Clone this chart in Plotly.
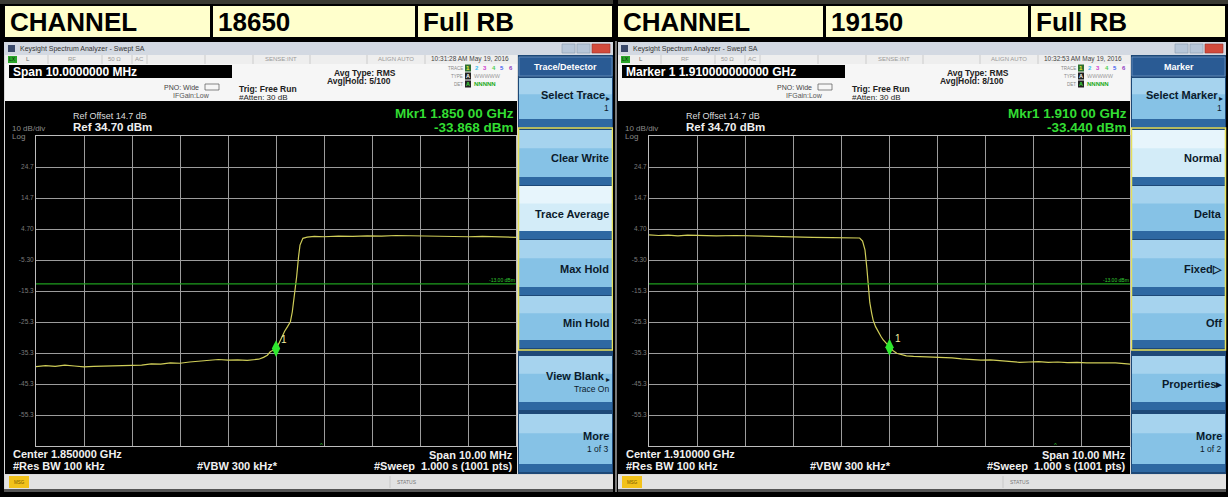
import plotly.graph_objects as go

W, H = 1228, 497
FONT = "Liberation Sans, Arial, sans-serif"

# ---------------- data ----------------
HEADER_LEFT = ["CHANNEL", "18650", "Full RB"]
HEADER_RIGHT = ["CHANNEL", "19150", "Full RB"]

# frequency offset from centre (MHz) and trace level (dBm)
LEFT_FREQ_MHZ = [-5.00, -4.80, -4.60, -4.40, -4.20, -4.00, -3.80, -3.60, -3.40, -3.20,
                 -3.00, -2.80, -2.60, -2.40, -2.20, -2.00, -1.80, -1.60, -1.40, -1.20,
                 -1.00, -0.80, -0.60, -0.47, -0.36, -0.26, -0.18, -0.12, -0.06, 0.00,
                 0.06, 0.12, 0.18, 0.24, 0.30, 0.34, 0.37, 0.40, 0.43, 0.47,
                 0.50, 0.56, 0.65, 0.80, 1.00, 1.30, 1.60, 1.90, 2.20, 2.50,
                 2.80, 3.10, 3.40, 3.70, 4.00, 4.30, 4.60, 4.80, 5.00]
LEFT_LEVEL_DBM = [-39.7, -39.4, -39.6, -39.2, -39.5, -39.8, -39.6, -39.5, -39.3, -39.4,
                  -39.1, -39.2, -38.8, -38.9, -38.5, -38.6, -38.2, -37.9, -37.7, -37.4,
                  -37.6, -37.5, -37.7, -37.6, -37.3, -36.7, -36.0, -34.9, -34.4, -33.9,
                  -32.2, -30.0, -28.3, -26.8, -25.2, -22.0, -18.5, -15.5, -10.7, -4.2,
                  -0.5, 1.7, 2.1, 2.3, 2.2, 2.4, 2.3, 2.5, 2.4, 2.6,
                  2.5, 2.4, 2.3, 2.4, 2.2, 2.3, 2.1, 2.2, 2.0]

RIGHT_FREQ_MHZ = [-5.00, -4.80, -4.60, -4.40, -4.20, -4.00, -3.60, -3.20, -2.80, -2.40,
                  -2.00, -1.60, -1.20, -0.90, -0.62, -0.56, -0.51, -0.47, -0.44, -0.41,
                  -0.37, -0.34, -0.29, -0.24, -0.18, -0.13, -0.06, 0.00, 0.07, 0.15,
                  0.25, 0.35, 0.50, 0.70, 0.90, 1.10, 1.30, 1.50, 1.70, 1.90,
                  2.10, 2.30, 2.50, 2.70, 2.90, 3.10, 3.30, 3.50, 3.70, 3.90,
                  4.10, 4.40, 4.70, 5.00]
RIGHT_LEVEL_DBM = [2.8, 2.6, 2.7, 2.5, 2.7, 2.6, 2.5, 2.6, 2.4, 2.3,
                   2.2, 2.0, 1.9, 1.9, 1.8, 0.8, -2.0, -8.0, -12.8, -19.0,
                   -22.5, -24.7, -26.8, -28.4, -29.9, -31.1, -32.4, -33.4, -34.5, -35.4,
                   -35.9, -36.2, -36.4, -36.5, -36.7, -36.6, -36.9, -37.2, -37.4, -37.6,
                   -37.5, -37.7, -37.9, -38.3, -38.2, -38.1, -38.3, -38.2, -38.4, -38.3,
                   -38.5, -38.6, -38.5, -38.9]

REF_LEVEL = 34.7
BOTTOM_LEVEL = -65.3
DISPLAY_LINE_DBM = -13.0
Y_TICK_VALUES = [24.7, 14.7, 4.7, -5.3, -15.3, -25.3, -35.3, -45.3, -55.3]
Y_TICK_LABELS = ["24.7", "14.7", "4.70", "-5.30", "-15.3", "-25.3", "-35.3", "-45.3", "-55.3"]

MARKER_FREQ_MHZ = [0.0, 0.0]
MARKER_LEVEL_DBM = [-33.868, -33.440]
MARKER_FREQ_TEXT = ["1.850 00 GHz", "1.910 00 GHz"]
MARKER_LEVEL_TEXT = ["-33.868 dBm", "-33.440 dBm"]
CENTER_TEXT = ["Center 1.850000 GHz", "Center 1.910000 GHz"]
ACTIVE_TEXT = ["Span 10.0000000 MHz", "Marker 1 1.910000000000 GHz"]
AVG_HOLD_TEXT = ["Avg|Hold: 5/100", "Avg|Hold: 8/100"]
TIME_TEXT = ["10:31:28 AM May 19, 2016", "10:32:53 AM May 19, 2016"]
MENU_TITLE = ["Trace/Detector", "Marker"]
MENU_KEYS = [
    [("Select Trace", "1", True), ("Clear Write", None, False), ("Trace Average", None, False),
     ("Max Hold", None, False), ("Min Hold", None, False), ("View Blank", "Trace On", True),
     ("More", "1 of 3", False)],
    [("Select Marker", "1", True), ("Normal", None, False), ("Delta", None, False),
     ("Fixed\u25b7", None, False), ("Off", None, False), ("Properties\u25b8", None, False),
     ("More", "1 of 2", False)],
]
MENU_ACTIVE = [2, 1]
CARET_FREQ_MHZ = [0.94, 3.46]

# ---------------- helpers ----------------
shapes, annotations = [], []


def px(x):
    return x / W


def py(y):
    return 1 - y / H


def rect(x0, y0, x1, y1, fill, line_color=None, lw=0):
    shapes.append(dict(type="rect", xref="paper", yref="paper",
                       x0=px(x0), x1=px(x1), y0=py(y1), y1=py(y0),
                       fillcolor=fill, layer="below",
                       line=dict(color=line_color or "rgba(0,0,0,0)", width=lw)))


def line(x0, y0, x1, y1, color, lw=1):
    shapes.append(dict(type="line", xref="paper", yref="paper",
                       x0=px(x0), x1=px(x1), y0=py(y0), y1=py(y1),
                       layer="below", line=dict(color=color, width=lw)))


def text(x, y, s, size, color, bold=False, anchor="left", family=FONT):
    annotations.append(dict(xref="paper", yref="paper", x=px(x), y=py(y),
                            text=f"<b>{s}</b>" if bold else s, showarrow=False,
                            xanchor=anchor, yanchor="middle", borderpad=0,
                            font=dict(size=size, color=color, family=family)))


# ---------------- global background ----------------
rect(0, 0, W, H, "#000000")
rect(0, 0, W, 4, "#3b3b33")

HEADERS = [HEADER_LEFT, HEADER_RIGHT]


def panel(i, ox):
    # header cells
    cells = [(5, 210), (213, 415), (418, 612)]
    for (a, b), label in zip(cells, HEADERS[i]):
        rect(ox + a, 6, ox + b, 37, "#ffffcc")
        text(ox + a + 4, 21.5, label, 26, "#000000", bold=True)

    # window frame
    rect(ox + 4, 42, ox + 613, 490, "#d9d9d9")
    # title bar
    rect(ox + 4, 42, ox + 613, 55, "#d3d9e2")
    rect(ox + 8, 45, ox + 15, 52, "#3a4a6a")
    text(ox + 19, 48.5, "Keysight Spectrum Analyzer - Swept SA", 7, "#333333")
    rect(ox + 562, 44, ox + 575, 53, "#b7c6d8", "#8a9ab0", 0.6)
    rect(ox + 577, 44, ox + 590, 53, "#b7c6d8", "#8a9ab0", 0.6)
    rect(ox + 592, 44, ox + 610, 53, "#d24b3c", "#9a3028", 0.6)

    # status row (LX L RF ...)
    rect(ox + 5, 55, ox + 517, 64, "#eeeeee")
    rect(ox + 8, 56, ox + 17, 63, "#2aa52a")
    text(ox + 12.5, 59.5, "LX", 5, "#0a300a", anchor="center")
    for sx in [48, 102, 132, 147, 205, 253, 310, 367, 425]:
        line(ox + sx, 55, ox + sx, 64, "#b5b5b5", 0.6)
    text(ox + 28, 59.5, "L", 6, "#666666", anchor="center")
    text(ox + 72, 59.5, "RF", 6, "#999999", anchor="center")
    text(ox + 114, 59.5, "50 \u03a9", 6, "#999999", anchor="center")
    text(ox + 139, 59.5, "AC", 6, "#999999", anchor="center")
    text(ox + 281, 59.5, "SENSE:INT", 6, "#999999", anchor="center")
    text(ox + 396, 59.5, "ALIGN AUTO", 6, "#999999", anchor="center")
    text(ox + 470, 59.5, TIME_TEXT[i], 6.5, "#444444", anchor="center")

    # info bar
    rect(ox + 5, 64, ox + 517, 101, "#f6f6f6")
    rect(ox + 9, 65, ox + 232, 78, "#000000")
    text(ox + 12, 71.5, ACTIVE_TEXT[i], 12, "#ffffff", bold=True)
    text(ox + 200, 87, "PNO: Wide", 7, "#444444", anchor="right")
    rect(ox + 205, 84, ox + 219, 90, "#f6f6f6", "#555555", 0.7)
    text(ox + 172, 96, "IFGain:Low", 7, "#555555")
    text(ox + 238, 89, "Trig: Free Run", 8.5, "#222222", bold=True)
    text(ox + 238, 97, "#Atten: 30 dB", 8, "#222222")
    text(ox + 333, 73, "Avg Type: RMS", 8.5, "#222222", bold=True)
    text(ox + 326, 81, AVG_HOLD_TEXT[i], 8.5, "#222222", bold=True)
    text(ox + 464, 68, "TRACE", 4.5, "#888888", anchor="right")
    text(ox + 464, 76, "TYPE", 4.5, "#888888", anchor="right")
    text(ox + 464, 84, "DET", 4.5, "#888888", anchor="right")
    rect(ox + 465, 64.5, ox + 471, 71.5, "#2f6f2f")
    tcols = ["#f0f040", "#40c0f0", "#d040d0", "#50d050", "#4060f0", "#9040c0"]
    for k, c in enumerate(tcols):
        text(ox + 468 + k * 8.6, 68, str(k + 1), 6, c, bold=True, anchor="center")
    rect(ox + 465, 72.5, ox + 471, 79.5, "#222222")
    text(ox + 468, 76, "A", 5.5, "#ffffff", bold=True, anchor="center")
    text(ox + 473, 76, "WWWWW", 5.5, "#9a9a9a")
    rect(ox + 465, 80.5, ox + 471, 87.5, "#222222")
    text(ox + 468, 84, "A", 5.5, "#40e040", bold=True, anchor="center")
    text(ox + 473, 84, "NNNNN", 6, "#22aa22", bold=True)

    # screen
    rect(ox + 5, 101, ox + 517, 474, "#000000")
    text(ox + 72, 116, "Ref Offset 14.7 dB", 9, "#dddddd")
    text(ox + 72, 127, "Ref 34.70 dBm", 11.5, "#f0f0f0", bold=True)
    text(ox + 11, 128, "10 dB/div", 8, "#8a8a8a")
    text(ox + 11, 136, "Log", 8, "#8a8a8a")
    text(ox + 515, 113.5, "Mkr1 " + MARKER_FREQ_TEXT[i], 13.5, "#33dd33", bold=True, anchor="right")
    text(ox + 515, 127, MARKER_LEVEL_TEXT[i], 13.5, "#33dd33", bold=True, anchor="right")
    text(ox + 12, 454, CENTER_TEXT[i], 11, "#f0f0f0", bold=True)
    text(ox + 12, 466, "#Res BW 100 kHz", 11, "#f0f0f0", bold=True)
    text(ox + 196, 466, "#VBW 300 kHz*", 11, "#f0f0f0", bold=True)
    text(ox + 514, 455, "Span 10.00 MHz", 11, "#f0f0f0", bold=True, anchor="right")
    text(ox + 514, 466, "#Sweep  1.000 s (1001 pts)", 11, "#f0f0f0", bold=True, anchor="right")

    # status bar
    rect(ox + 5, 475, ox + 613, 489, "#e2e2e2")
    rect(ox + 9, 476, ox + 29, 488, "#f2c21a")
    text(ox + 19, 482, "MSG", 4.5, "#7a5a00", anchor="center")
    line(ox + 390, 476, ox + 390, 488, "#bbbbbb", 0.6)
    text(ox + 407, 482, "STATUS", 5, "#777777", anchor="center")
    rect(ox + 4, 489, ox + 613, 492, "#555555")

    # softkey menu
    mx0, mx1 = ox + 519, ox + 612
    rect(mx0 - 1, 55, mx1 + 1, 474, "#1d4877")
    rect(mx0, 57, mx1, 76, "#2a5b94", "#6f95c0", 0.8)
    text((mx0 + mx1) / 2, 66.5, MENU_TITLE[i], 9, "#ffffff", bold=True, anchor="center")
    rows = [(78, 127), (130, 185), (186, 239), (240, 295), (296, 348), (356, 410), (414, 472)]
    for k, ((y0, y1), (main, sub, arrow)) in enumerate(zip(rows, MENU_KEYS[i])):
        active = (k == MENU_ACTIVE[i])
        face = "#d3ecf8" if active else "#86c2e6"
        top = "#e7f5fc" if active else "#a6d3ee"
        rect(mx0, y0, mx1, y1, face)
        rect(mx0, y0, mx1, y0 + (y1 - y0) * 0.33, top)
        rect(mx0, y1 - 8, mx1, y1, "#2e68a2")
        if sub is None:
            text(mx1 - 2, (y0 + y1) / 2 + 1, main, 11, "#0b1a2b", bold=True, anchor="right")
        else:
            text(mx1 - 6 if arrow else mx1 - 2, (y0 + y1) / 2 - 7, main, 11, "#0b1a2b",
                 bold=True, anchor="right")
            text(mx1 - 2, (y0 + y1) / 2 + 6, sub, 8.5, "#0b1a2b", anchor="right")
        if arrow:
            text(mx1 - 1, (y0 + y1) / 2 - 4, "\u25b8", 8, "#0b1a2b", anchor="right")
    rect(mx0 - 0.5, 128, mx1 + 0.5, 350, "rgba(0,0,0,0)", "#e6df5a", 1.5)


panel(0, 0)
panel(1, 613)
# thin separator between the two screenshots
rect(613, 0, 618, H, "#000000")
line(616, 41, 616, 492, "#f0f0f0", 1)

# ---------------- spectrum plots ----------------
fig = go.Figure()
TRACES = [(LEFT_FREQ_MHZ, LEFT_LEVEL_DBM), (RIGHT_FREQ_MHZ, RIGHT_LEVEL_DBM)]
GRID_X = [(36, 516), (649, 1130)]
axis_common_x = dict(range=[-5, 5], tick0=-5, dtick=1, showgrid=True, gridcolor="#9c9c9c",
                     gridwidth=1, showticklabels=False, ticks="", zeroline=False,
                     showline=True, linecolor="#bdbdbd", linewidth=1, mirror=True,
                     fixedrange=True)
axis_common_y = dict(range=[BOTTOM_LEVEL, REF_LEVEL], tickmode="array",
                     tickvals=Y_TICK_VALUES, ticktext=Y_TICK_LABELS, showgrid=True,
                     gridcolor="#9c9c9c", gridwidth=1, ticks="", zeroline=False,
                     showline=True, linecolor="#bdbdbd", linewidth=1, mirror=True,
                     tickfont=dict(size=6.5, color="#7a7a7a", family=FONT),
                     fixedrange=True)

layout_axes = {}
for i, ((fx, lv), (gx0, gx1)) in enumerate(zip(TRACES, GRID_X)):
    sfx = "" if i == 0 else "2"
    layout_axes["xaxis" + sfx] = dict(axis_common_x, domain=[px(gx0), px(gx1)],
                                      anchor="y" + sfx)
    layout_axes["yaxis" + sfx] = dict(axis_common_y, domain=[py(446), py(136)],
                                      anchor="x" + sfx)
    fig.add_trace(go.Scatter(x=fx, y=lv, mode="lines", xaxis="x" + sfx, yaxis="y" + sfx,
                             line=dict(color="#cfcd58", width=1.2), hoverinfo="skip",
                             showlegend=False))
    fig.add_trace(go.Scatter(x=[MARKER_FREQ_MHZ[i]], y=[MARKER_LEVEL_DBM[i]], mode="markers",
                             xaxis="x" + sfx, yaxis="y" + sfx,
                             marker=dict(symbol="diamond-tall", size=12, color="#2ee82e"),
                             hoverinfo="skip", showlegend=False))
    # display line
    shapes.append(dict(type="line", xref=f"x{sfx} domain", yref="y" + sfx, x0=0, x1=1,
                       y0=DISPLAY_LINE_DBM, y1=DISPLAY_LINE_DBM, layer="above",
                       line=dict(color="#1e9e1e", width=1.2)))
    annotations.append(dict(xref=f"x{sfx} domain", yref="y" + sfx, x=1, y=DISPLAY_LINE_DBM,
                            text="-13.00 dBm", showarrow=False, xanchor="right",
                            yanchor="bottom", yshift=0, borderpad=0,
                            font=dict(size=5, color="#33cc33", family=FONT)))
    annotations.append(dict(xref="x" + sfx, yref="y" + sfx, x=MARKER_FREQ_MHZ[i],
                            y=MARKER_LEVEL_DBM[i], text="1", showarrow=False,
                            xshift=8, yshift=9, borderpad=0,
                            font=dict(size=10, color="#f2f0a0", family=FONT)))
    annotations.append(dict(xref="x" + sfx, yref="y" + sfx, x=CARET_FREQ_MHZ[i],
                            y=BOTTOM_LEVEL, text="^", showarrow=False, yshift=1,
                            borderpad=0, font=dict(size=6, color="#2ecc2e", family=FONT)))

fig.update_layout(width=W, height=H, margin=dict(l=0, r=0, t=0, b=0),
                  paper_bgcolor="#000000", plot_bgcolor="rgba(0,0,0,0)",
                  shapes=shapes, annotations=annotations, showlegend=False,
                  **layout_axes)
fig.write_html("out.html", config={"displayModeBar": False},
               post_script="document.body.style.margin='0px';")
